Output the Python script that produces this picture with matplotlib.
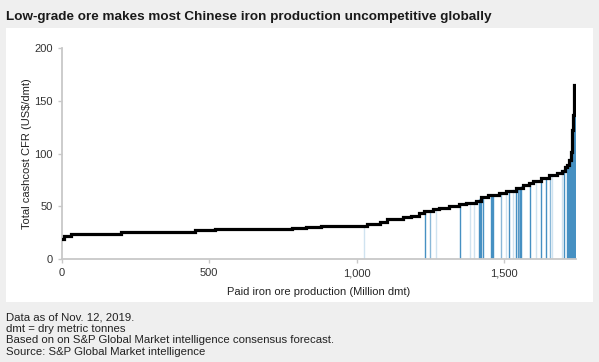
import numpy as np
import matplotlib
matplotlib.use('Agg')
import matplotlib.pyplot as plt
from matplotlib.patches import Rectangle

plt.rcParams['font.family'] = ['Liberation Sans', 'DejaVu Sans']

# cost curve (cumulative production in Mt, cash cost in US$/dmt), step breakpoints
prod = [0, 8, 30, 120, 200, 350, 450, 520, 780, 830, 880, 1036, 1078, 1105, 1156,
        1185, 1213, 1230, 1258, 1281, 1315, 1349, 1372, 1406, 1422, 1445, 1485,
        1507, 1541, 1564, 1586, 1598, 1626, 1654, 1680, 1699, 1708, 1716, 1722,
        1728, 1731, 1733, 1736, 1739, 1742]
cost = [19.5, 22.5, 23.5, 24.4, 25.4, 26.3, 27.3, 28.3, 29.3, 30.3, 31.7, 33.2, 35.6, 38, 39.8,
        41.3, 43.5, 45.9, 47.6, 48.8, 50.3, 52.1, 53.7, 55.6, 59.3, 60.9, 62.5,
        64.7, 67.3, 70.3, 72.6, 74.5, 77.1, 79.8, 82, 84, 86.9, 89.3, 93.7,
        101.5, 109, 122, 137, 165, 165]

# highlighted (non-Chinese) mines: position along curve and shade
mine_x = [1025, 1233, 1250, 1270, 1351, 1385, 1400, 1416, 1420, 1424, 1428,
          1456, 1459, 1462, 1491, 1507, 1519, 1532, 1543, 1547, 1551, 1555, 1558,
          1590, 1609, 1626, 1643, 1656, 1665, 1696, 1705, 1715, 1718, 1721,
          1724, 1727, 1730, 1733, 1736, 1739, 1741]
mine_shade = ['light', 'dark', 'mid', 'light', 'dark', 'light', 'light', 'dark', 'dark', 'dark', 'dark',
              'dark', 'dark', 'dark', 'mid', 'light', 'dark', 'light', 'dark', 'dark', 'mid', 'dark', 'dark',
              'dark', 'light', 'dark', 'dark', 'mid', 'light', 'light', 'dark', 'dark', 'dark', 'dark',
              'dark', 'dark', 'dark', 'dark', 'dark', 'dark', 'dark']
shade_colors = {'dark': '#4690c2', 'mid': '#8ab8d8', 'light': '#d0e3f0'}

footnotes = ['Data as of Nov. 12, 2019.',
             'dmt = dry metric tonnes',
             'Based on on S&P Global Market intelligence consensus forecast.',
             'Source: S&P Global Market intelligence']

fig = plt.figure(figsize=(5.99, 3.62), dpi=100)
fig.patch.set_facecolor('#efefef')
fig.patches.append(Rectangle((6/599, 1 - 302/362), 587/599, 274/362,
                             transform=fig.transFigure, facecolor='white',
                             edgecolor='none', zorder=-1))

ax = fig.add_axes([62/599, 1 - 259.3/362, 514/599, 211.3/362])
ax.set_facecolor('none')
ax.set_zorder(2)

heights = np.interp(mine_x, prod, cost)
for xm, hm, sh in zip(mine_x, heights, mine_shade):
    ax.vlines(xm, 0, hm - 0.5, color=shade_colors[sh], lw=1.0, zorder=2)

ax.plot(prod, cost, drawstyle='steps-post', color='black', lw=2.3, zorder=3,
        solid_joinstyle='miter')

ax.set_xlim(0, 1745)
ax.set_ylim(0, 200)
ax.set_xticks([0, 500, 1000, 1500])
ax.set_xticklabels(['0', '500', '1,000', '1,500'])
ax.set_yticks([0, 50, 100, 150, 200])
for s in ['top', 'right']:
    ax.spines[s].set_visible(False)
for s in ['left', 'bottom']:
    ax.spines[s].set_color('#c8c8c8')
    ax.spines[s].set_linewidth(1.3)
ax.tick_params(colors='#c8c8c8', labelcolor='#333333', labelsize=8, length=3, width=1)
ax.set_xlabel('Paid iron ore production (Million dmt)', fontsize=8, color='#222222', labelpad=6)
ax.set_ylabel('Total cashcost CFR (US$/dmt)', fontsize=8, color='#222222', labelpad=2)

fig.text(6/599, 1 - 20/362, 'Low-grade ore makes most Chinese iron production uncompetitive globally',
         fontsize=9.7, fontweight='bold', color='#1a1a1a', va='baseline', ha='left')
for i, line in enumerate(footnotes):
    fig.text(6/599, 1 - (320 + i * 11.6)/362, line, fontsize=8.2, color='#222222',
             va='baseline', ha='left')

fig.savefig('out.png', dpi=100, facecolor=fig.get_facecolor())
